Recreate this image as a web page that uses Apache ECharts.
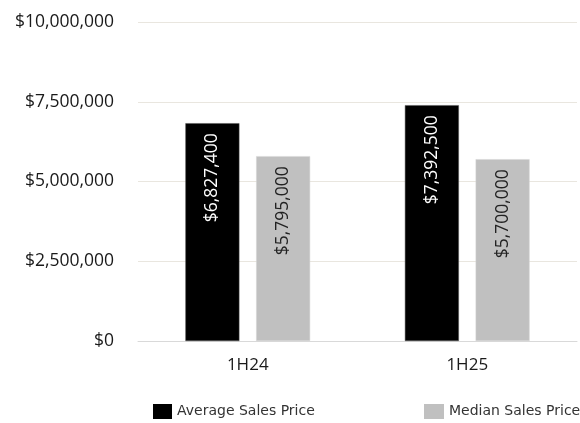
<!DOCTYPE html>
<html>
<head>
<meta charset="utf-8">
<script src="https://cdn.jsdelivr.net/npm/echarts@6/dist/echarts.min.js"></script>
<style>
  html, body { margin: 0; padding: 0; background: #fff; }
  #chart { width: 580px; height: 423px; }
</style>
</head>
<body>
<div id="chart"></div>
<script>
// data
const categories = ['1H24', '1H25'];
const averageSales = [6827400, 7392500];
const medianSales = [5795000, 5700000];
const yTicks = [0, 2500000, 5000000, 7500000, 10000000];

const money = (v) => '$' + Number(v).toLocaleString('en-US');

const legendText = { fontFamily: 'DejaVu Sans', fontSize: 14, color: '#333', padding: [3, 0, 0, 0] };

const chart = echarts.init(document.getElementById('chart'));
const option = {
  backgroundColor: '#fff',
  animation: false,
  grid: { left: 138, right: 3, top: 22, bottom: 82 },
  legend: [
    {
      left: 148,
      top: 399,
      icon: 'rect',
      itemWidth: 19,
      itemHeight: 15,
      itemGap: 10,
      itemStyle: { borderWidth: 0 },
      data: ['Average Sales Price'],
      textStyle: legendText,
    },
    {
      left: 419,
      top: 399,
      icon: 'rect',
      itemWidth: 20,
      itemHeight: 15,
      itemStyle: { borderWidth: 0 },
      data: ['Median Sales Price'],
      textStyle: legendText,
    },
  ],
  xAxis: {
    type: 'category',
    data: categories,
    axisTick: { show: false },
    axisLine: { lineStyle: { color: '#d9d9d9' } },
    axisLabel: { fontFamily: 'Open Sans', fontSize: 17, color: '#1a1a1a', margin: 16 },
  },
  yAxis: {
    type: 'value',
    min: yTicks[0],
    max: yTicks[yTicks.length - 1],
    interval: yTicks[1] - yTicks[0],
    axisLine: { show: false },
    axisTick: { show: false },
    splitLine: { lineStyle: { color: '#e9e6df' } },
    axisLabel: { fontFamily: 'Open Sans', fontSize: 17.5, color: '#1a1a1a', margin: 24, formatter: money },
  },
  series: [
    {
      name: 'Average Sales Price',
      type: 'bar',
      data: averageSales,
      barWidth: 54,
      barGap: '31%',
      itemStyle: { color: '#000', borderColor: '#555', borderWidth: 0.5 },
      label: {
        show: true,
        position: 'insideTop',
        rotate: 90,
        align: 'right',
        verticalAlign: 'middle',
        distance: 10,
        color: '#fff',
        fontFamily: 'Open Sans',
        fontSize: 17.5,
        formatter: (p) => money(p.value),
      },
    },
    {
      name: 'Median Sales Price',
      type: 'bar',
      data: medianSales,
      barWidth: 54,
      itemStyle: { color: '#c0c0c0', borderColor: '#d6d6d6', borderWidth: 0.5 },
      label: {
        show: true,
        position: 'insideTop',
        rotate: 90,
        align: 'right',
        verticalAlign: 'middle',
        distance: 10,
        color: '#222',
        fontFamily: 'Open Sans',
        fontSize: 17.5,
        formatter: (p) => money(p.value),
      },
    },
  ],
};
chart.setOption(option);
</script>
</body>
</html>
